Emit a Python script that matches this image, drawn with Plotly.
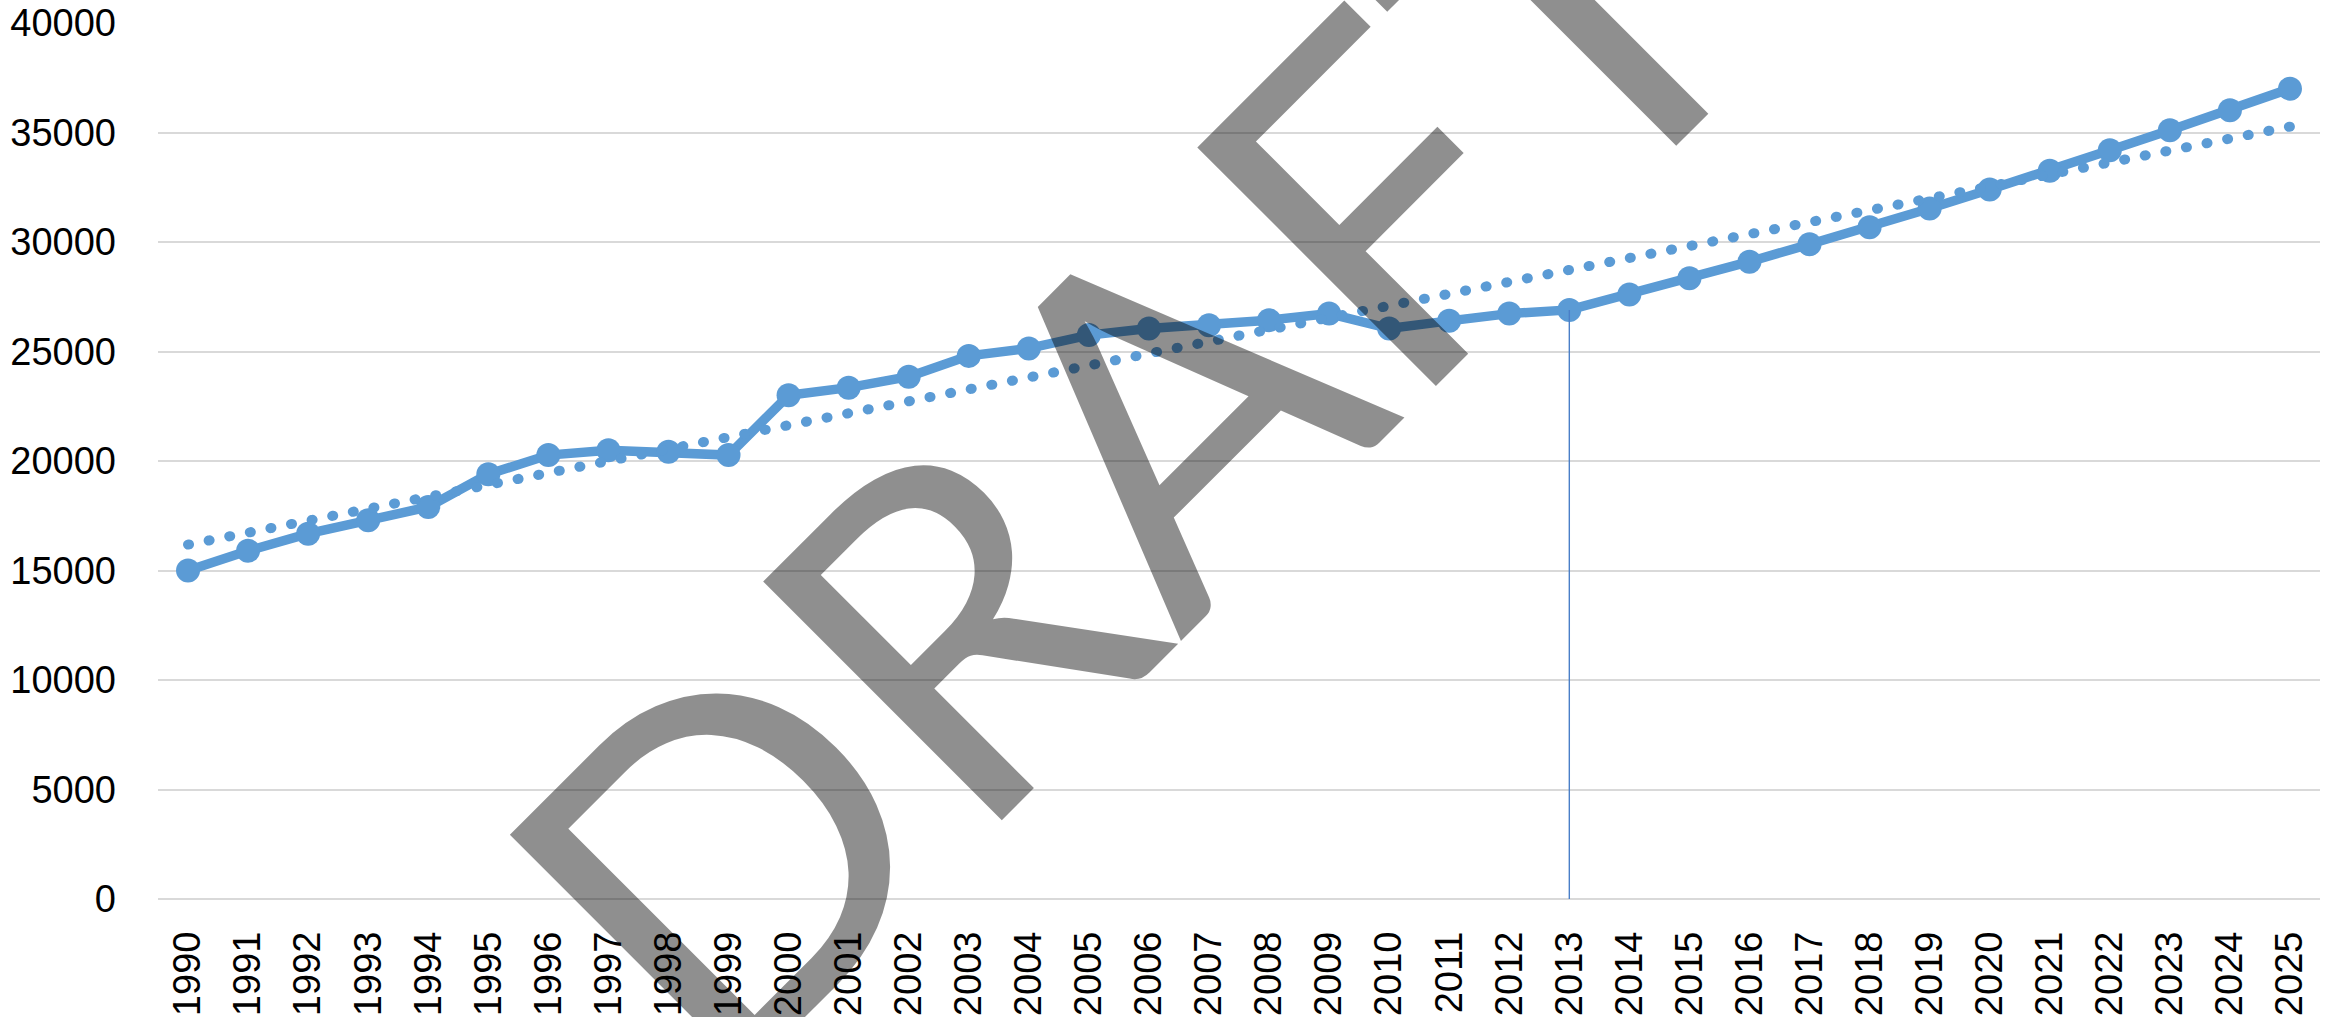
import numpy as np
import plotly.graph_objects as go

# ---- data ----
years = [str(y) for y in range(1990, 2026)]
values = [15000, 15900, 16680, 17290, 17900, 19400, 20270, 20490, 20420, 20270,
          23000, 23350, 23850, 24800, 25140, 25750, 26050, 26200, 26430, 26730,
          26050, 26400, 26730, 26900, 27600, 28350, 29100, 29900, 30670, 31530,
          32400, 33250, 34190, 35100, 36020, 37000]
marker_year = "2013"
y_ticks = [0, 5000, 10000, 15000, 20000, 25000, 30000, 35000, 40000]
y_ticktext = [str(v) for v in y_ticks]
watermark = "DRAFT"

BLUE = "#5b9bd5"

# linear trendline fitted to the series
idx = np.arange(len(values))
slope, intercept = np.polyfit(idx, values, 1)
trend_x = [years[0], years[-1]]
trend_y = [intercept, intercept + slope * idx[-1]]

fig = go.Figure()

fig.add_trace(go.Scatter(x=years, y=values, mode="lines+markers",
                         line=dict(color=BLUE, width=9.5),
                         marker=dict(color=BLUE, size=24),
                         showlegend=False))

fig.add_trace(go.Scatter(x=trend_x, y=trend_y, mode="lines",
                         line=dict(color=BLUE, width=10, dash="1px,20px"),
                         hoverinfo="skip", showlegend=False))

# vertical drop line at the marker year
mv = values[years.index(marker_year)]
fig.add_trace(go.Scatter(x=[marker_year, marker_year], y=[0, mv], mode="lines",
                         line=dict(color="#4a7fc8", width=1.4),
                         hoverinfo="skip", showlegend=False))

fig.add_annotation(text=watermark, xref="paper", yref="paper",
                   x=0.4475, y=0.5254, xanchor="center", yanchor="middle",
                   showarrow=False, textangle=-45,
                   font=dict(family="Lato", size=471, color="rgba(0,0,0,0.44)"))

fig.update_layout(
    width=2338, height=1017, autosize=False,
    margin=dict(l=158, r=18, t=23, b=118),
    paper_bgcolor="white", plot_bgcolor="white",
    font=dict(family="Liberation Sans", size=38, color="black"),
)
fig.update_xaxes(type="category", categoryorder="array", categoryarray=years,
                 range=[-0.5, len(years) - 0.5], automargin=False,
                 tickangle=-90, showgrid=False, zeroline=False, showline=False,
                 ticks="", ticklabelstandoff=24,
                 tickfont=dict(family="Liberation Sans", size=38, color="black"))
fig.update_yaxes(range=[0, 40000], tickvals=y_ticks, ticktext=y_ticktext,
                 automargin=False,
                 showgrid=True, gridcolor="#d9d9d9", gridwidth=1.5,
                 zeroline=True, zerolinecolor="#d9d9d9", zerolinewidth=1.5,
                 showline=False, ticks="", ticklabelstandoff=41,
                 tickfont=dict(family="Liberation Sans", size=38, color="black"))

post = """
document.body.style.margin = '0';
document.body.style.overflow = 'hidden';
var gd = document.getElementById('{plot_id}');
function fixCaps(){
  gd.querySelectorAll('path.js-line').forEach(function(p){
    var d = p.style.strokeDasharray;
    if (d && d !== 'none') { p.style.strokeLinecap = 'round'; }
  });
}
fixCaps();
gd.on('plotly_afterplot', fixCaps);
"""
fig.write_html("out.html", post_script=post, config={"displayModeBar": False})
